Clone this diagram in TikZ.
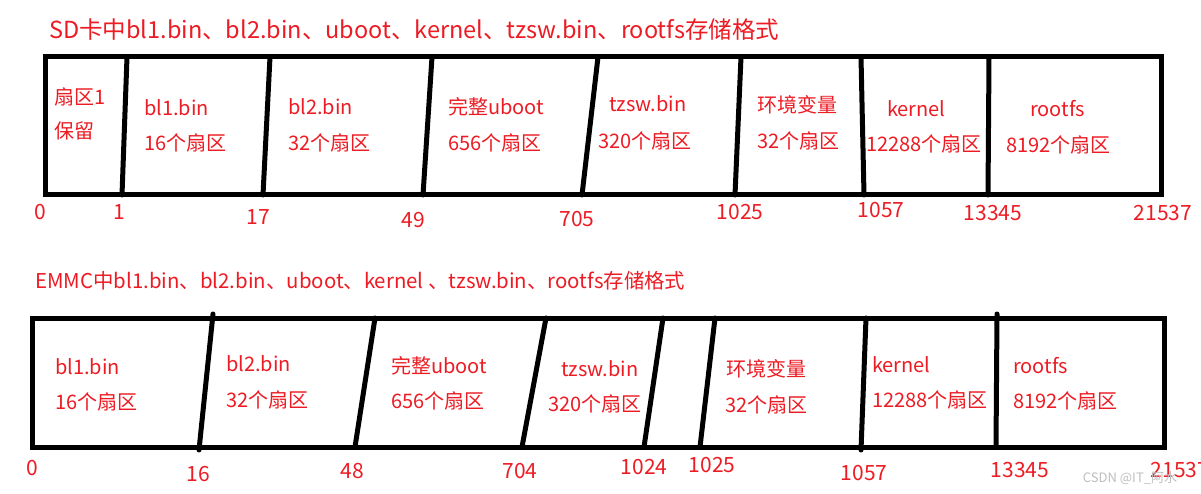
\documentclass[tikz,border=0pt]{standalone}
\usepackage{fontspec}
\setmainfont{Noto Sans CJK SC}
\definecolor{pred}{RGB}{237,28,36}
\tikzset{
  lbl/.style={text=pred, font=\fontsize{20}{22}\selectfont, inner sep=0pt, anchor=west},
  num/.style={text=pred, font=\fontsize{21}{23}\selectfont, inner sep=0pt},
  ttl/.style={text=pred, inner sep=0pt, anchor=west},
  frame/.style={draw=black, line width=5pt, line join=miter},
  divl/.style={draw=black, line width=5pt, line cap=round},
}
\begin{document}
\begin{tikzpicture}[x=1pt,y=-1pt]
\useasboundingbox[fill=white] (0,0) rectangle (1201,494);

% ---------- SD card ----------
\node[ttl, font=\fontsize{23.5}{25}\selectfont] (t1) at (49,30) {SD卡中bl1.bin、bl2.bin、uboot、kernel、tzsw.bin、rootfs存储格式};
\path[frame] (45,57) rectangle (1161,195);
\coordinate (a1t) at (127,57);  \coordinate (a1b) at (122,195);
\coordinate (a2t) at (270,57);  \coordinate (a2b) at (263,195);
\coordinate (a3t) at (432,57);  \coordinate (a3b) at (423,195);
\coordinate (a4t) at (598,57);  \coordinate (a4b) at (582,195);
\coordinate (a5t) at (741,57);  \coordinate (a5b) at (735,195);
\coordinate (a6t) at (861,57);  \coordinate (a6b) at (864,195);
\coordinate (a7t) at (989,57);  \coordinate (a7b) at (988,195);
\foreach \i in {1,...,7} { \draw[divl] (a\i t) -- (a\i b); }

\node[lbl] (s0a) at (54,97) {扇区1};
\node[lbl] (s0b) at (54,131) {保留};
\node[lbl] (s1a) at (144,108) {bl1.bin};
\node[lbl] (s1b) at (144,143) {16个扇区};
\node[lbl] (s2a) at (288,107) {bl2.bin};
\node[lbl] (s2b) at (288,143) {32个扇区};
\node[lbl] (s3a) at (448,107) {完整uboot};
\node[lbl] (s3b) at (448,143) {656个扇区};
\node[lbl] (s4a) at (609,104) {tzsw.bin};
\node[lbl] (s4b) at (598,141) {320个扇区};
\node[lbl] (s5a) at (757,105) {环境变量};
\node[lbl] (s5b) at (757,141) {32个扇区};
\node[lbl] (s6a) at (887,109) {kernel};
\node[lbl] (s6b) at (866,144) {12288个扇区};
\node[lbl] (s7a) at (1030,109) {rootfs};
\node[lbl] (s7b) at (1006,145) {8192个扇区};

\node[num] (n0) at (40,212) {0};
\node[num] (n1) at (119,212) {1};
\node[num] (n2) at (258,217) {17};
\node[num] (n3) at (413,220) {49};
\node[num] (n4) at (577,219) {705};
\node[num] (n5) at (740,212) {1025};
\node[num] (n6) at (881,210) {1057};
\node[num] (n7) at (993,213) {13345};
\node[num] (n8) at (1163,213) {21537};

% ---------- EMMC ----------
\node[ttl, font=\fontsize{20.4}{22}\selectfont] (t2) at (35,281) {EMMC中bl1.bin、bl2.bin、uboot、kernel 、tzsw.bin、rootfs存储格式};
\path[frame] (32,318) rectangle (1164,447);
\coordinate (b1t) at (213,314); \coordinate (b1b) at (199,450);
\coordinate (b2t) at (375,318); \coordinate (b2b) at (355,447);
\coordinate (b3t) at (546,318); \coordinate (b3b) at (522,447);
\coordinate (b4t) at (663,318); \coordinate (b4b) at (644,447);
\coordinate (b5t) at (715,318); \coordinate (b5b) at (700,447);
\coordinate (b6t) at (866,318); \coordinate (b6b) at (861,450);
\coordinate (b7t) at (997,314); \coordinate (b7b) at (996,447);
\foreach \i in {1,...,7} { \draw[divl] (b\i t) -- (b\i b); }

\node[lbl] (e1a) at (55,367) {bl1.bin};
\node[lbl] (e1b) at (55,402) {16个扇区};
\node[lbl] (e2a) at (226,364) {bl2.bin};
\node[lbl] (e2b) at (226,400) {32个扇区};
\node[lbl] (e3a) at (391,366) {完整uboot};
\node[lbl] (e3b) at (391,401) {656个扇区};
\node[lbl] (e4a) at (561,369) {tzsw.bin};
\node[lbl] (e4b) at (548,404) {320个扇区};
\node[lbl] (e5a) at (726,369) {环境变量};
\node[lbl] (e5b) at (725,405) {32个扇区};
\node[lbl] (e6a) at (872,365) {kernel};
\node[lbl] (e6b) at (872,400) {12288个扇区};
\node[lbl] (e7a) at (1013,366) {rootfs};
\node[lbl] (e7b) at (1013,401) {8192个扇区};

\node[num] (m0) at (32,468) {0};
\node[num] (m1) at (198,474) {16};
\node[num] (m2) at (352,471) {48};
\node[num] (m3) at (520,471) {704};
\node[num] (m4) at (644,467) {1024};
\node[num] (m5) at (712,465) {1025};
\node[num] (m6) at (864,473) {1057};
\node[num] (m7) at (1020,470) {13345};
\node[num] (m8) at (1180,470) {21537};

\node[text=black!25, font=\fontsize{13}{14}\selectfont, inner sep=0pt] (wm) at (1130,478) {CSDN @IT\_阿水};
\end{tikzpicture}
\end{document}
